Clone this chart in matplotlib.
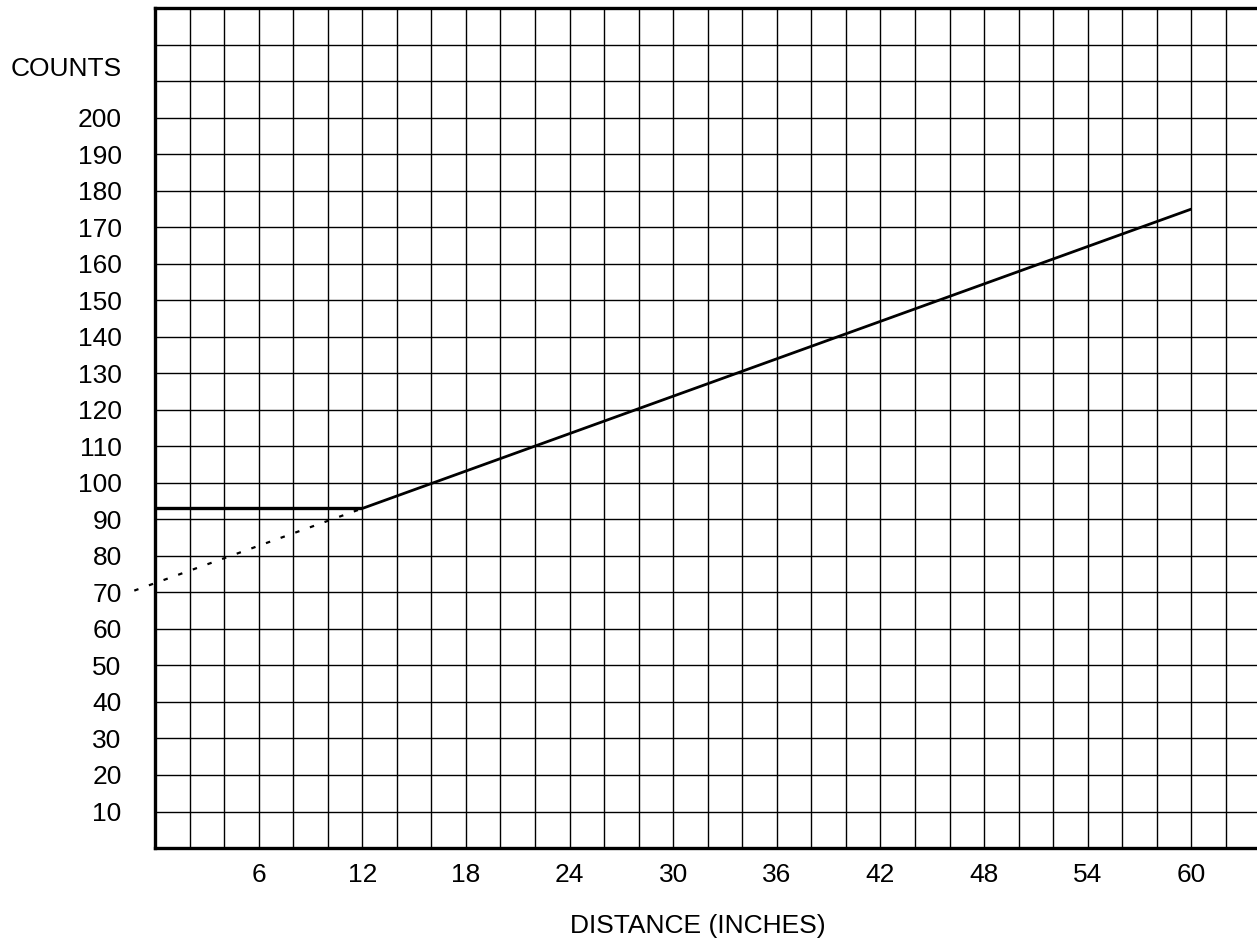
import matplotlib
matplotlib.use("Agg")
import matplotlib.pyplot as plt
from matplotlib.ticker import MultipleLocator, FixedLocator

plt.rcParams['font.family'] = ['Liberation Sans', 'DejaVu Sans']

# measured curve
distance = [0, 12, 60]
counts = [93, 93, 175]

# dotted extrapolation back past the axis
extrap_distance = [-1.2, 12]
extrap_counts = [70.5, 93]

x_ticks = [6, 12, 18, 24, 30, 36, 42, 48, 54, 60]
y_ticks = [10, 20, 30, 40, 50, 60, 70, 80, 90, 100,
           110, 120, 130, 140, 150, 160, 170, 180, 190, 200]

fig = plt.figure(figsize=(12.57, 9.39), dpi=100)
ax = fig.add_axes([0.1233, 0.0969, 0.8767, 0.8943])

ax.set_xlim(0, 63.8)
ax.set_ylim(0, 230)

ax.xaxis.set_major_locator(FixedLocator(x_ticks))
ax.xaxis.set_minor_locator(MultipleLocator(2))
ax.yaxis.set_major_locator(FixedLocator(y_ticks))
ax.yaxis.set_minor_locator(MultipleLocator(10))
ax.set_xticklabels([str(v) for v in x_ticks])
ax.set_yticklabels([str(v) for v in y_ticks])

ax.grid(True, which='both', color='black', linewidth=1.0)
ax.set_axisbelow(True)
ax.tick_params(which='both', length=0)
ax.tick_params(axis='y', pad=24, labelsize=19)
ax.tick_params(axis='x', pad=11, labelsize=19)

for side in ['top', 'left', 'bottom']:
    ax.spines[side].set_linewidth(2.4)
ax.spines['right'].set_visible(False)

ax.plot(distance[:2], counts[:2], color='black', linewidth=2.4, solid_capstyle='butt')
ax.plot(distance[1:], counts[1:], color='black', linewidth=2.0, solid_capstyle='butt')
ax.plot(extrap_distance, extrap_counts, color='black', linewidth=1.6,
        linestyle=(0, (2, 5.0)), clip_on=False)

ax.set_xlabel('DISTANCE (INCHES)', fontsize=19)
ax.xaxis.set_label_coords(0.493, -0.078)

ax.annotate('COUNTS', xy=(0, 213.5), xycoords=('axes fraction', 'data'),
            xytext=(-24, 0), textcoords='offset points',
            ha='right', va='center', fontsize=19)

fig.savefig('out.png', dpi=100)
